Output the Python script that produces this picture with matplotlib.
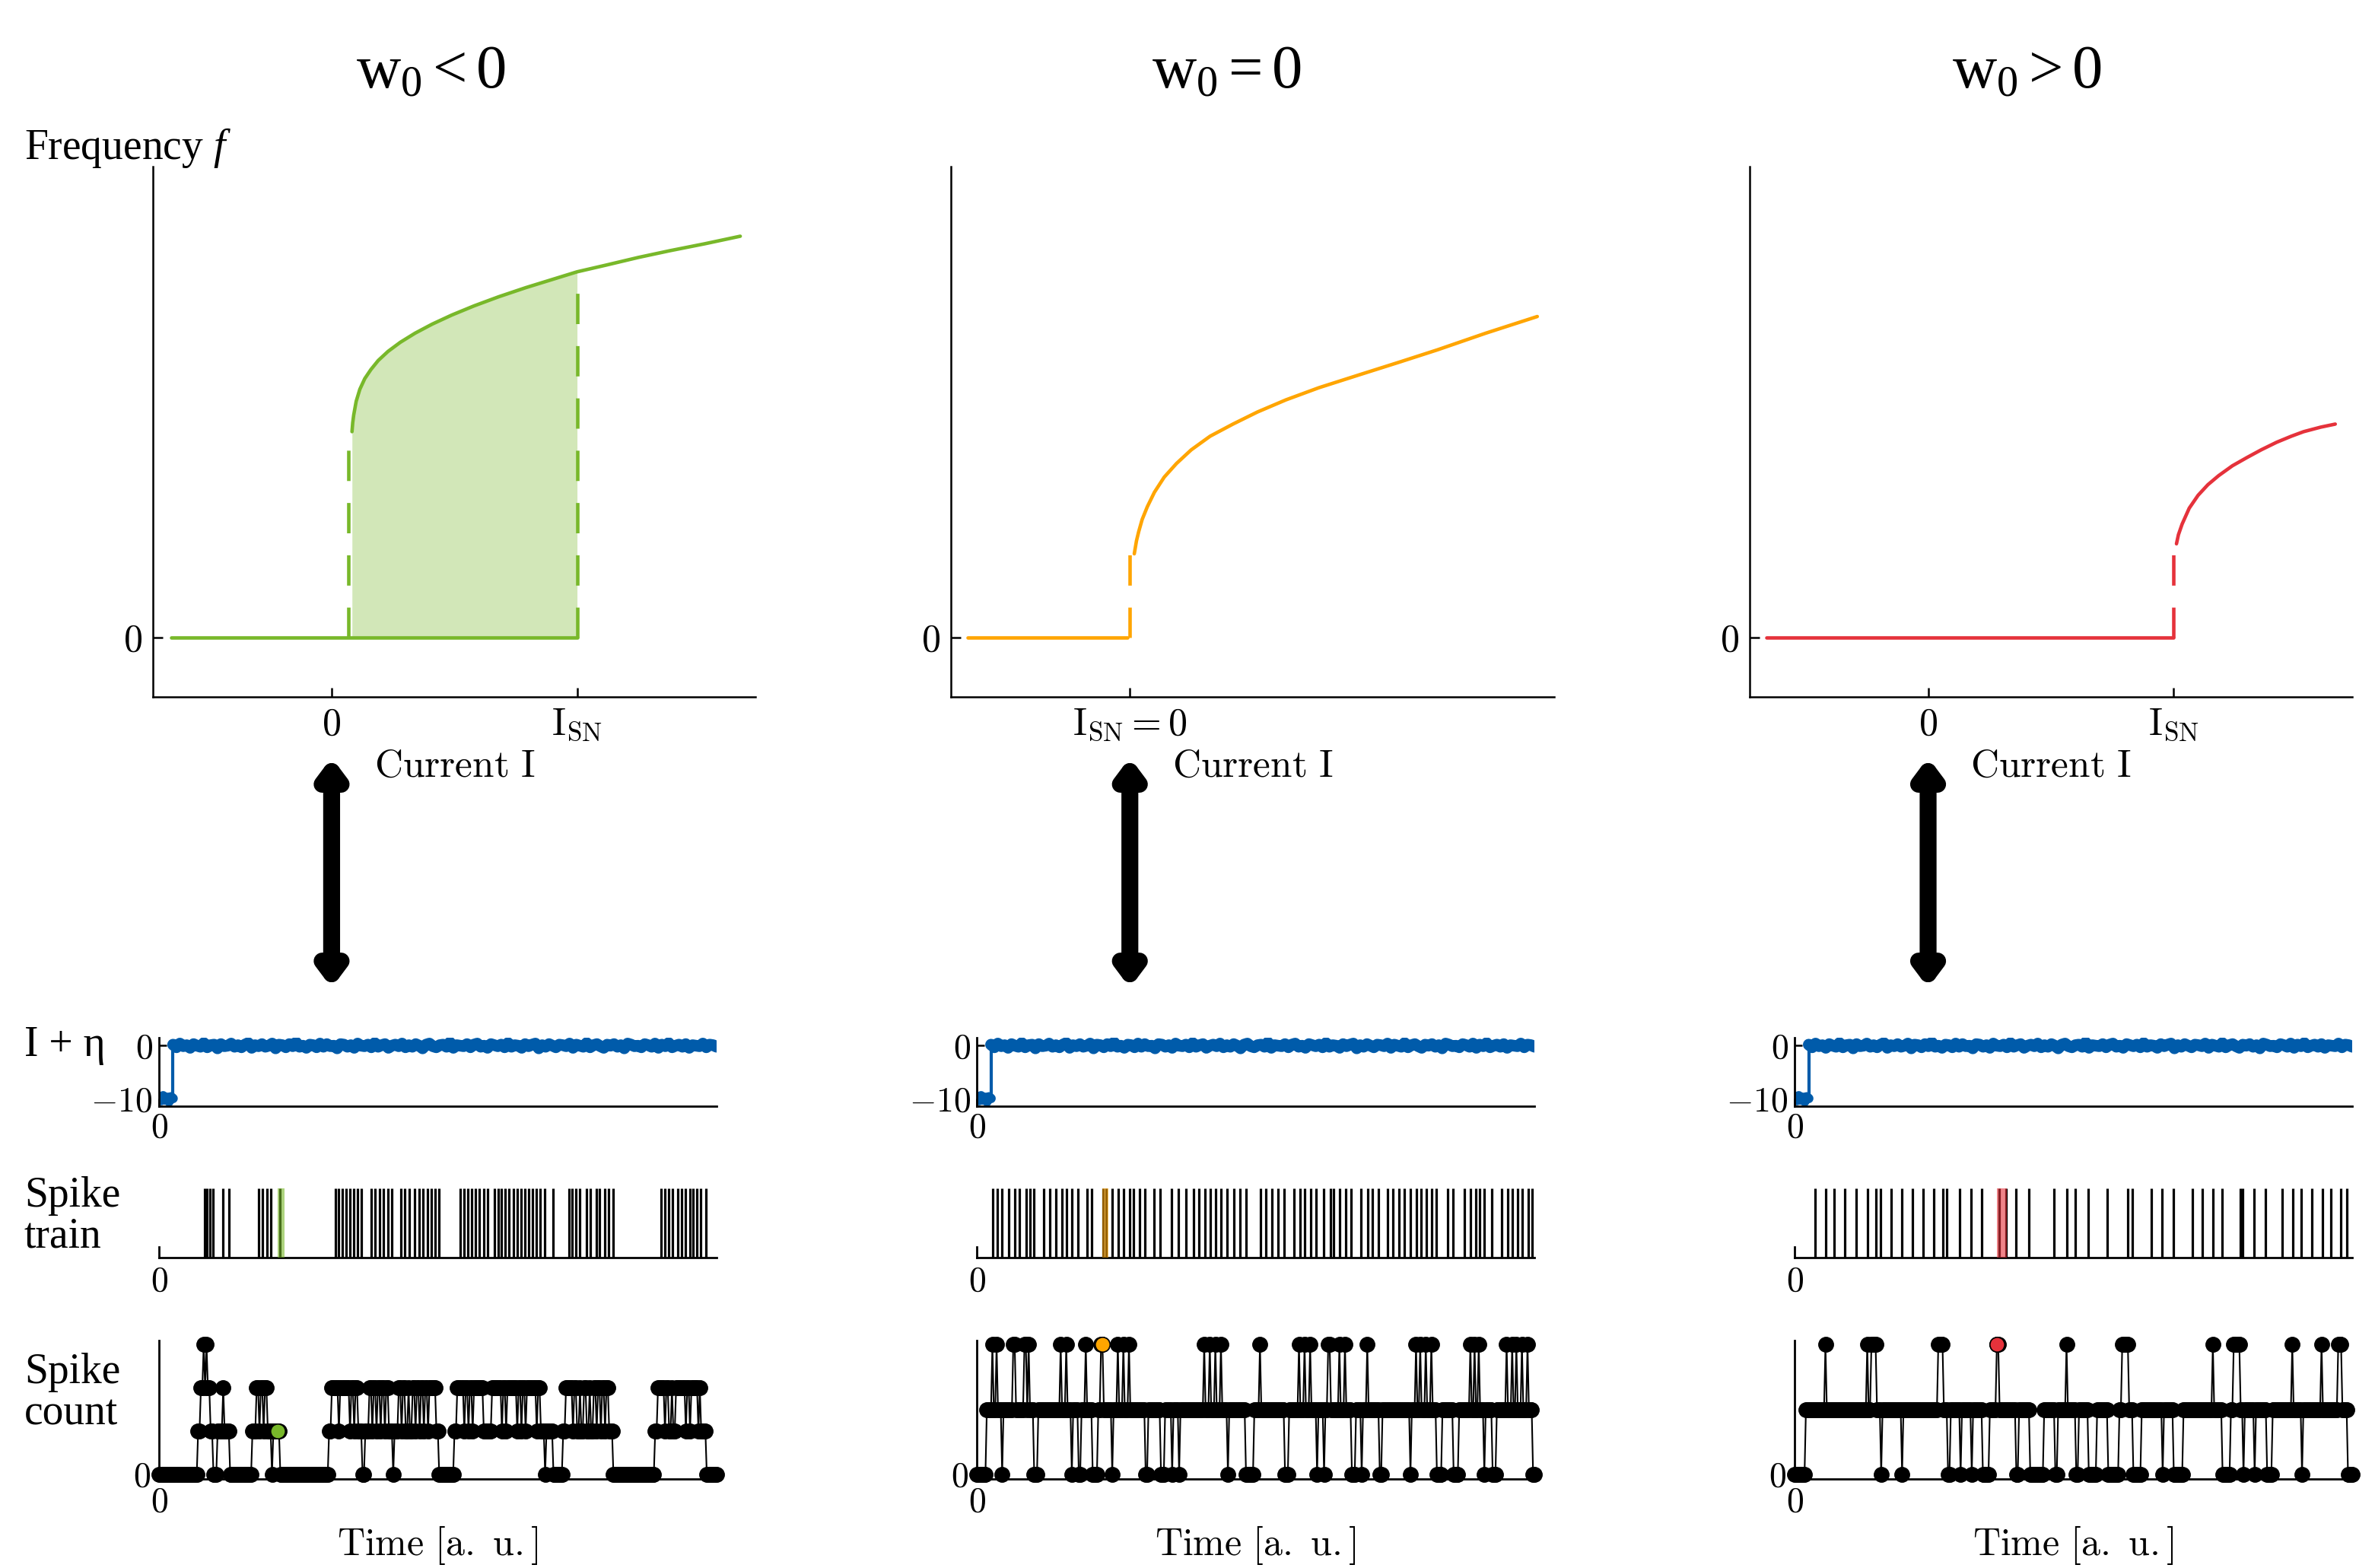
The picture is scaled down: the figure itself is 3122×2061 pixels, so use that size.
import numpy as np
import matplotlib.pyplot as plt

plt.rcParams['font.family'] = 'Liberation Serif'
plt.rcParams['mathtext.fontset'] = 'cm'
plt.rcParams['mathtext.rm'] = 'Liberation Serif'
plt.rcParams['mathtext.it'] = 'Liberation Serif:italic'
plt.rcParams['mathtext.bf'] = 'Liberation Serif:bold'

colors = ['#78B82A', '#FFA500', '#E5323B']
blue = '#005BAA'
titles = [r"$\mathrm{w}_0 < 0$", r"$\mathrm{w}_0 = 0$", r"$\mathrm{w}_0 > 0$"]

# ---------------- f-I curves (current in units of I_SN) ----------------
zero_branch_I = [[-0.655, 1.0], [-0.66, -0.01], [-0.66, 1.0]]

upper_I = [
    [0.083, 0.086, 0.09, 0.10, 0.115, 0.135, 0.16, 0.19, 0.23, 0.28, 0.34,
     0.41, 0.49, 0.58, 0.68, 0.79, 0.90, 1.0, 1.12, 1.25, 1.38, 1.52, 1.665],
    [0.018, 0.027, 0.036, 0.05, 0.071, 0.10, 0.14, 0.19, 0.25, 0.327, 0.42,
     0.52, 0.636, 0.77, 0.944, 1.10, 1.253, 1.45, 1.66],
    [1.012, 1.02, 1.035, 1.064, 1.10, 1.14, 1.184, 1.24, 1.30, 1.357, 1.42,
     1.48, 1.53, 1.60, 1.659],
]
upper_f = [
    [1.36, 1.42, 1.47, 1.56, 1.64, 1.71, 1.77, 1.83, 1.89, 1.95, 2.01,
     2.07, 2.13, 2.19, 2.25, 2.31, 2.365, 2.415, 2.46, 2.51, 2.555, 2.60, 2.65],
    [0.554, 0.64, 0.70, 0.78, 0.864, 0.96, 1.06, 1.15, 1.24, 1.33, 1.41,
     1.49, 1.57, 1.65, 1.74, 1.82, 1.90, 2.01, 2.12],
    [0.62, 0.68, 0.75, 0.855, 0.94, 1.01, 1.07, 1.135, 1.19, 1.24, 1.29,
     1.33, 1.36, 1.39, 1.41],
]
dash_I = [[0.069, 1.0], [0.0], [1.0]]
dash_top = [[1.27, 2.32], [0.56], [0.58]]
bistable = [0.083, 1.0]

xtick_pos = [[0, 1], [0], [0, 1]]
xtick_lab = [[r"$0$", r"$\mathrm{I}_{\mathrm{SN}}$"],
             [r"$\mathrm{I}_{\mathrm{SN}}=0$"],
             [r"$0$", r"$\mathrm{I}_{\mathrm{SN}}$"]]

# ---------------- input current ----------------
t_step = 25.0
I_low, I_high = -10.0, 0.0
pre_noise = [0.5, -0.3, 0.6, -0.2, 0.3, -0.5, 0.4, 0.1]
noise = [0.2, -0.3, 0.4, -0.1, 0.1, -0.4, 0.3, 0.0, -0.2, 0.5, -0.3, 0.1, 0.2, -0.5, 0.3, -0.1,
         0.0, 0.4, -0.2, 0.1, -0.3, 0.2, 0.5, -0.4, 0.1, -0.1, 0.3, -0.2, 0.0, 0.4, -0.5, 0.2,
         0.1, -0.3, 0.3, -0.1, 0.6, -0.2, 0.0, -0.4, 0.2, 0.1, -0.3, 0.4, -0.2, 0.3, -0.1, 0.0,
         -0.5, 0.3, 0.2, -0.2, 0.1, -0.4, 0.4, 0.0, -0.1, 0.2, -0.3, 0.5, -0.2, 0.1, 0.3, -0.4,
         0.0, 0.2, -0.1, 0.4, -0.3, 0.1, -0.2, 0.3, 0.0, -0.5, 0.2, 0.4, -0.1, -0.3, 0.1, 0.2,
         -0.2, 0.6, -0.4, 0.1, 0.0, -0.1, 0.3, -0.3, 0.2, 0.4, -0.2, 0.0, -0.4, 0.3, 0.1, -0.1,
         0.2, -0.3, 0.5, -0.2, 0.1, 0.0, -0.4, 0.3, -0.1, 0.2, 0.4, -0.5, 0.1, -0.2, 0.3, 0.0,
         -0.3, 0.2, 0.1, -0.1, 0.4, -0.4, 0.2, 0.0, -0.2, 0.5, -0.3, 0.1, 0.3, -0.1, -0.4, 0.2,
         0.0, 0.3, -0.2, 0.1, -0.5, 0.4, 0.2, -0.1, 0.0, -0.3, 0.3, 0.1, -0.2, 0.4, -0.4, 0.2,
         -0.1, 0.5, -0.3, 0.0, 0.2, -0.2, 0.3, -0.4, 0.1, 0.0, -0.1, 0.4, -0.3, 0.2, 0.1, -0.2]
T_end = 1000.0

# ---------------- spike trains ----------------
spikes_1 = [82, 86, 91, 97, 115, 125, 178, 185, 193, 201, 217,
            316, 322, 329, 336, 342, 349, 356, 363, 381, 388, 396, 403, 410,
            418, 434, 441, 449, 458, 466, 474, 481, 488, 495, 502,
            540, 547, 554, 561, 568, 575, 582, 589, 601, 608, 614, 621, 628,
            636, 642, 649, 656, 663, 670, 677, 684, 692, 707,
            735, 741, 748, 755, 767, 773, 784, 790, 799, 807, 814,
            900, 907, 914, 921, 931, 938, 944, 952, 958, 965, 972, 981]
spikes_2 = [28, 36.7, 44.5, 56.2, 68, 75.8, 88.4, 94.6, 101.7, 118.9, 130.7,
            141.6, 151.8, 160.4, 169.8, 181.6, 197.2, 205.8, 226.2, 231.5,
            241.9, 253.6, 263, 273.2, 281, 291.2, 301.4, 317.8, 328.8, 348.4,
            361.7, 375, 388.3, 398.5, 408.7, 418.1, 428.3, 437.7, 447.9, 461.2,
            471.3, 482.3, 508.2, 517.6, 528.5, 539.5, 550.5, 569.2, 579.4,
            588.1, 598.2, 608.4, 621.7, 633.5, 639.7, 650.7, 660.9, 670.3,
            689.1, 701.6, 709.4, 720.4, 736.1, 746.3, 756.4, 766.6, 776.8,
            788.6, 796.4, 805.8, 815.2, 823.8, 844.9, 854.3, 873.9, 885.6,
            894.3, 901.3, 909.9, 923.3, 941.3, 951.5, 960.1, 969.5, 978.1,
            988.3, 996.1]
spikes_3 = [36, 55, 71, 90, 110, 130, 146, 154, 173, 192, 211, 230, 249, 266,
            273, 296, 316, 336, 366.5, 379.4, 397, 420, 465, 488, 503, 526,
            560, 598, 605, 640, 659, 679, 714, 731, 750, 766, 799, 803, 824,
            845, 875, 894, 909, 928, 947, 962, 980, 991]
spikes = [spikes_1, spikes_2, spikes_3]
window = [12.5, 11.0, 18.0]      # counting window
count_step = 2.5                 # sliding step of the window
highlight_t = [212.5, 225.0, 362.5]

fig = plt.figure(figsize=(31.22, 20.61), dpi=100)

top_left = [0.0644, 0.4005, 0.7366]
bot_left = [0.0670, 0.4114, 0.7557]
title_x = [0.1815, 0.5166, 0.8533]


def style(ax, lw=1.8):
    for s in ['top', 'right']:
        ax.spines[s].set_visible(False)
    for s in ['left', 'bottom']:
        ax.spines[s].set_linewidth(lw)


for k in range(3):
    c = colors[k]
    # ---------- f-I panel ----------
    ax = fig.add_axes([top_left[k], 0.5556, 0.2538, 0.3382])
    style(ax)
    ax.plot(zero_branch_I[k], [0, 0], color=c, lw=3.3, solid_capstyle='round')
    ax.plot(upper_I[k], upper_f[k], color=c, lw=3.3, solid_capstyle='round')
    for xi, top in zip(dash_I[k], dash_top[k]):
        ax.plot([xi, xi], [0, top], color=c, lw=3.3, ls=(0, (8.7, 6.3)))
    if k == 0:
        ui = np.array(upper_I[0])
        uf = np.array(upper_f[0])
        m = (ui >= bistable[0]) & (ui <= bistable[1])
        ax.fill_between(ui[m], 0, uf[m], color=c, alpha=0.33, lw=0)
        ax.text(-0.2136, 1.035, r"Frequency $f$", transform=ax.transAxes,
                fontsize=40, ha='left', va='center', math_fontfamily='custom')
    ax.set_xlim(-0.728, 1.728)
    ax.set_ylim(-0.39, 3.11)
    ax.set_xticks(xtick_pos[k])
    ax.set_xticklabels(xtick_lab[k])
    ax.set_yticks([0])
    ax.set_yticklabels([r"$0$"])
    ax.tick_params(direction='in', length=9, width=1.8, labelsize=36, pad=10)
    ax.set_xlabel(r"$\mathrm{Current\ I}$", fontsize=37)
    ax.xaxis.set_label_coords(0.5, -0.10)

    fig.text(title_x[k], 0.944, titles[k], fontsize=58, ha='center',
             va='baseline', math_fontfamily='custom')

    ax.annotate('', xy=(0, 0.3700), xytext=(0, 0.5169),
                xycoords=('data', 'figure fraction'),
                textcoords=('data', 'figure fraction'),
                annotation_clip=False,
                arrowprops=dict(arrowstyle='<|-|>,head_length=0.6,head_width=0.45',
                                mutation_scale=20, lw=16, color='k',
                                shrinkA=0, shrinkB=0, joinstyle='round'))

    # ---------- input current ----------
    ax1 = fig.add_axes([bot_left[k], 0.2947, 0.2347, 0.0435])
    style(ax1, 2.0)
    t_pre = np.linspace(0, t_step, len(pre_noise))
    ax1.plot(t_pre, I_low + np.array(pre_noise), color=blue, lw=9,
             solid_capstyle='round')
    ax1.plot([t_step, t_step], [I_low, I_high], color=blue, lw=3)
    t_post = np.linspace(t_step, T_end, len(noise))
    ax1.plot(t_post, I_high + np.array(noise), color=blue, lw=11,
             solid_capstyle='round')
    ax1.set_xlim(0, T_end)
    ax1.set_ylim(-11.3, 1.5)
    ax1.set_yticks([0, -10])
    ax1.set_yticklabels([r"$0$", r"$-10$"])
    ax1.set_xticks([0])
    ax1.set_xticklabels([r"$0$"])
    ax1.tick_params(direction='in', length=7, width=1.8, labelsize=33, pad=6)
    if k == 0:
        ax1.text(-0.242, 0.889, "I + η", transform=ax1.transAxes, fontsize=40,
                 ha='left', va='center')

    # ---------- spike train ----------
    ax2 = fig.add_axes([bot_left[k], 0.1981, 0.2347, 0.044])
    style(ax2, 2.0)
    ax2.vlines(spikes[k], 0, 1, color='k', lw=2.3, clip_on=False)
    ax2.axvspan(highlight_t[k], highlight_t[k] + window[k], 0, 1,
                color=c, alpha=0.6, lw=0, zorder=3)
    ax2.set_xlim(0, T_end)
    ax2.set_ylim(0, 1)
    ax2.spines['left'].set_bounds(0, 0.15)
    ax2.set_yticks([])
    ax2.set_xticks([0])
    ax2.set_xticklabels([r"$0$"])
    ax2.tick_params(direction='in', length=0, labelsize=33, pad=8)
    if k == 0:
        ax2.text(-0.242, 0.593, "Spike\ntrain", transform=ax2.transAxes,
                 fontsize=40, ha='left', va='center', linespacing=1.05)

    # ---------- spike count (sliding window) ----------
    ax3 = fig.add_axes([bot_left[k], 0.0570, 0.2347, 0.0879])
    style(ax3, 2.0)
    s = np.array(spikes[k])
    tw = np.arange(0, T_end + count_step / 2, count_step)
    counts = np.array([np.sum((s >= t) & (s < t + window[k])) for t in tw])
    ax3.plot(tw, counts, '-o', color='k', lw=1.5, ms=14, clip_on=False)
    j = int(np.argmin(np.abs(tw - highlight_t[k])))
    ax3.plot(tw[j], counts[j], 'o', mfc=c, mec='k', mew=1.2, ms=14,
             clip_on=False, zorder=4)
    top = counts.max()
    ax3.set_xlim(0, T_end)
    ax3.set_ylim(-0.035 * top, 1.03 * top)
    ax3.set_yticks([0])
    ax3.set_yticklabels([r"$0$"])
    ax3.set_xticks([0])
    ax3.set_xticklabels([r"$0$"])
    ax3.tick_params(direction='in', length=0, labelsize=33, pad=8)
    ax3.set_xlabel(r"$\mathrm{Time\ [a.\ u.]}$", fontsize=36)
    ax3.xaxis.set_label_coords(0.5, -0.33)
    if k == 0:
        ax3.text(-0.242, 0.62, "Spike\ncount", transform=ax3.transAxes,
                 fontsize=40, ha='left', va='center', linespacing=1.05)

fig.savefig("out.png", dpi=100)
